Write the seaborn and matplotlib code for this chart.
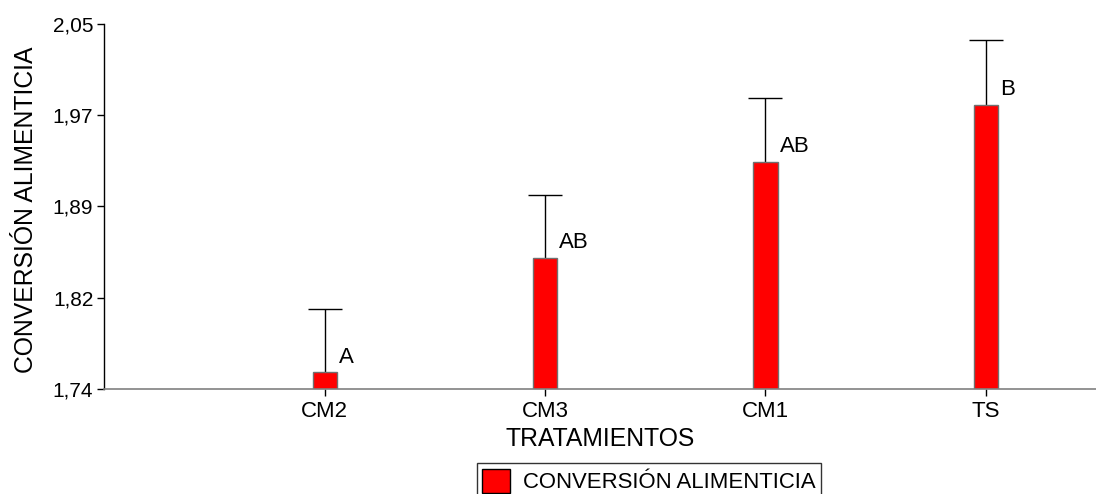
import matplotlib
matplotlib.use("Agg")
import matplotlib.pyplot as plt
import seaborn as sns
import pandas as pd
from matplotlib.patches import Patch

# Feed conversion per treatment: mean, standard error and significance group
tratamientos = ["CM2", "CM3", "CM1", "TS"]
conversion = [1.754, 1.851, 1.933, 1.981]
error_std = [0.054, 0.054, 0.054, 0.055]
grupos = ["A", "AB", "AB", "B"]
yticks = [1.74, 1.8175, 1.895, 1.9725, 2.05]
ytick_labels = ["1,74", "1,82", "1,89", "1,97", "2,05"]

df = pd.DataFrame({"tratamiento": tratamientos, "conversion": conversion})

sns.set_style("white")
plt.rcParams["font.family"] = ["Liberation Sans", "DejaVu Sans"]
plt.rcParams.update({"text.color": "black", "axes.labelcolor": "black",
                     "xtick.color": "black", "ytick.color": "black"})

fig = plt.figure(figsize=(10.96, 4.94), dpi=100)
ax = fig.add_axes([0.0953, 0.2126, 0.9047, 0.7388])

bar_w = 0.11
sns.barplot(data=df, x="tratamiento", y="conversion", order=tratamientos,
            color="#ff0000", saturation=1, width=bar_w, errorbar=None,
            edgecolor="#707070", linewidth=1.0, ax=ax, zorder=2)

# Upper-only error bars: hide the lower caps that sit on the bar tops
xs = list(range(len(tratamientos)))
_, caps, _ = ax.errorbar(xs, conversion, yerr=[[0] * len(xs), error_std], fmt="none",
                         ecolor="black", elinewidth=1.0, capsize=12, capthick=1.0,
                         zorder=1)
caps[0].set_visible(False)

for x, v, g in zip(xs, conversion, grupos):
    ax.annotate(g, (x + bar_w / 2, v), xytext=(1.5, 3.5), textcoords="offset points",
                ha="left", va="bottom", fontsize=16, color="black")

ax.set_xlim(-1, 3.5)
ax.set_ylim(1.74, 2.05)
ax.set_yticks(yticks)
ax.set_yticklabels(ytick_labels)
ax.tick_params(axis="y", length=5, width=1, color="black", labelcolor="black",
               labelsize=15, pad=3, left=True)
ax.tick_params(axis="x", length=5, width=1, color="black", labelcolor="black",
               labelsize=16, pad=4, bottom=True)

for side in ["top", "right"]:
    ax.spines[side].set_visible(False)
ax.spines["left"].set_color("black")
ax.spines["left"].set_linewidth(1.0)
ax.spines["bottom"].set_color("#808080")
ax.spines["bottom"].set_linewidth(1.2)

ax.set_xlabel("TRATAMIENTOS", fontsize=17.8, labelpad=3, color="black")
ax.set_ylabel("CONVERSIÓN ALIMENTICIA", fontsize=17.8, color="black")
ax.yaxis.set_label_coords(-0.067, 0.49)

handle = Patch(facecolor="#ff0000", edgecolor="black", linewidth=1.0)
leg = fig.legend([handle], ["CONVERSIÓN ALIMENTICIA"], loc="upper center",
                 bbox_to_anchor=(0.592, 0.062), fontsize=15.9, frameon=True,
                 fancybox=False, handlelength=1.25, handleheight=1.3,
                 borderpad=0.25, handletextpad=0.6, borderaxespad=0,
                 labelcolor="black")
leg.get_frame().set_edgecolor("black")
leg.get_frame().set_linewidth(1.0)

fig.savefig("out.png", dpi=100)
